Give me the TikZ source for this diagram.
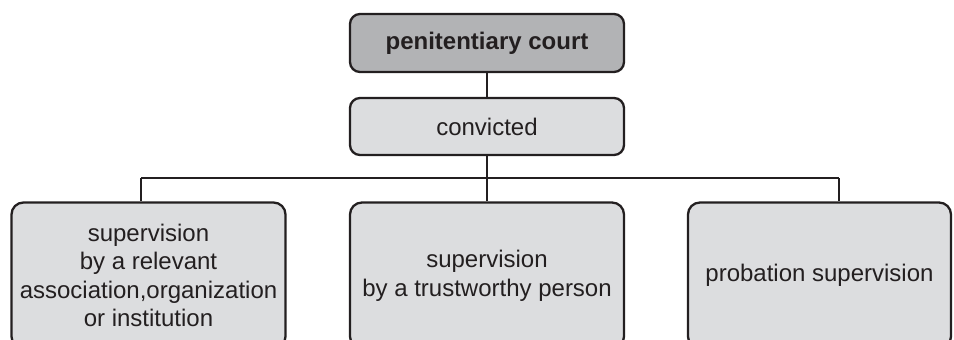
\documentclass[tikz,border=0pt]{standalone}
\usepackage{fontspec}
\setmainfont{Liberation Sans}
\usepackage{xcolor}
\definecolor{courtgray}{RGB}{178,179,181}
\definecolor{boxgray}{RGB}{220,221,223}
\definecolor{inkblack}{RGB}{35,31,32}

\begin{document}
\begin{tikzpicture}[x=0.5pt, y=-0.5pt, auto, line width=1.15pt, draw=inkblack,
    every node/.style={font=\fontsize{12pt}{14.3pt}\selectfont, text=inkblack}]
    \useasboundingbox (0,0) rectangle (954,339);
    \node [rectangle, rounded corners=5pt, draw=inkblack, fill=courtgray, minimum width=137pt, minimum height=29pt] (court) at (487,43) {\textbf{penitentiary court}};
    \node [rectangle, rounded corners=5pt, draw=inkblack, fill=boxgray, minimum width=137pt, minimum height=28.5pt, below of=court, node distance=41.75pt] (convicted) {convicted};
    \node [rectangle, rounded corners=6pt, align=center, draw=inkblack, fill=boxgray, minimum width=137pt, minimum height=73pt, below of=convicted, node distance=74.5pt] (trusted) {supervision\\by a trustworthy person};
    \node [rectangle, rounded corners=6pt, align=center, draw=inkblack, fill=boxgray, minimum width=137pt, minimum height=73pt, left of=trusted, node distance=169.25pt] (association) {supervision\\by a relevant\\association,organization\\or institution};
    \node [rectangle, rounded corners=6pt, align=center, draw=inkblack, fill=boxgray, minimum width=131.5pt, minimum height=73pt, right of=trusted, node distance=166.25pt] (probation) {probation supervision};

    \coordinate (busleft) at (141,178);
    \coordinate (busright) at (839,178);

    \path [draw=inkblack] (court) -- (convicted);
    \path [draw=inkblack] (convicted) -- (trusted);
    \path [draw=inkblack] (busleft) -- (busright);
    \path [draw=inkblack] (busleft) -- (busleft |- association.north);
    \path [draw=inkblack] (busright) -- (busright |- probation.north);
\end{tikzpicture}
\end{document}
